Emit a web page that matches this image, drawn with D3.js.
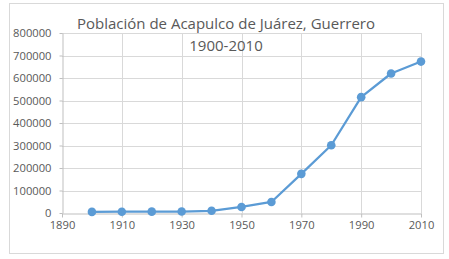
<!DOCTYPE html>
<html lang="es">
<head>
<meta charset="utf-8">
<title>Población de Acapulco de Juárez</title>
<script src="https://d3js.org/d3.v7.min.js"></script>
<style>
  body { margin: 0; background: #fff; }
  .tick text { font-family: "Open Sans", sans-serif; font-size: 11.2px; fill: #595959; }
</style>
</head>
<body>
<script>
// data
const years = [1900, 1910, 1920, 1930, 1940, 1950, 1960, 1970, 1980, 1990, 2000, 2010];
const population = [4900, 5800, 6000, 6500, 9900, 27000, 49000, 174000, 301000, 515000, 620000, 673000];
const xTicks = [1890, 1910, 1930, 1950, 1970, 1990, 2010];
const yTicks = [0, 100000, 200000, 300000, 400000, 500000, 600000, 700000, 800000];

const W = 449, H = 259;
const plotL = 62, plotR = 421, plotT = 33, plotB = 213;

const svg = d3.select("body").append("svg")
  .attr("width", W).attr("height", H);

// chart border
svg.append("rect")
  .attr("x", 9.5).attr("y", 3.5)
  .attr("width", 434).attr("height", 250)
  .attr("fill", "#fff").attr("stroke", "#d9d9d9");

const x = d3.scaleLinear().domain([1890, 2010]).range([plotL, plotR]);
const y = d3.scaleLinear().domain([0, 800000]).range([plotB, plotT]);

// gridlines
svg.append("g").selectAll("line").data(yTicks.slice(1)).enter().append("line")
  .attr("x1", plotL).attr("x2", plotR)
  .attr("y1", d => Math.round(y(d)) + 0.5).attr("y2", d => Math.round(y(d)) + 0.5)
  .attr("stroke", "#d9d9d9");
svg.append("g").selectAll("line").data(xTicks.slice(1)).enter().append("line")
  .attr("x1", d => Math.round(x(d)) + 0.5).attr("x2", d => Math.round(x(d)) + 0.5)
  .attr("y1", plotT).attr("y2", plotB)
  .attr("stroke", "#d9d9d9");

// axes
const xAxis = d3.axisBottom(x).tickValues(xTicks).tickFormat(d3.format("d"))
  .tickSizeInner(4).tickSizeOuter(0).tickPadding(4);
const gx = svg.append("g").attr("transform", "translate(0," + (plotB + 0.5) + ")").call(xAxis);
gx.selectAll("path, line").attr("stroke", "#bfbfbf");

const yAxis = d3.axisLeft(y).tickValues(yTicks).tickFormat(d3.format("d"))
  .tickSizeInner(3).tickSizeOuter(0).tickPadding(8);
const gy = svg.append("g").attr("transform", "translate(" + (plotL + 0.5) + ",0)").call(yAxis);
gy.selectAll("path, line").attr("stroke", "#bfbfbf");

// series
const pts = years.map((d, i) => [d, population[i]]);
svg.append("path")
  .datum(pts)
  .attr("fill", "none")
  .attr("stroke", "#5b9bd5")
  .attr("stroke-width", 2.25)
  .attr("stroke-linejoin", "round")
  .attr("d", d3.line().x(d => x(d[0])).y(d => y(d[1])));

svg.append("g").selectAll("circle").data(pts).enter().append("circle")
  .attr("cx", d => x(d[0])).attr("cy", d => y(d[1]))
  .attr("r", 4.3).attr("fill", "#5b9bd5");

// title
const title = svg.append("text")
  .attr("text-anchor", "middle")
  .attr("font-family", "'Open Sans', sans-serif")
  .attr("font-size", 15)
  .attr("fill", "#595959");
const t1 = title.append("tspan").attr("x", 226).attr("y", 29).text("Población de Acapulco de Juárez, Guerrero");
title.append("tspan").attr("x", 226).attr("y", 51).text("1900-2010");
// fit the first line to the width seen in the picture
const w1 = t1.node().getComputedTextLength();
title.attr("font-size", 15 * 298 / w1);
</script>
</body>
</html>
